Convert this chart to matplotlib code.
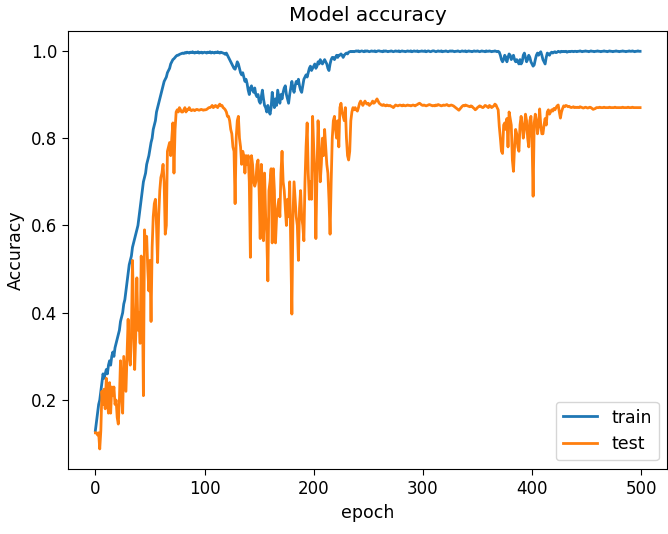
import numpy as np
import matplotlib
matplotlib.use("Agg")
import matplotlib.pyplot as plt

title = "Model accuracy"
x_label = "epoch"
y_label = "Accuracy"
series_names = ["train", "test"]

train = [
    0.13, 0.15, 0.17, 0.19, 0.20, 0.22, 0.24, 0.26, 0.25, 0.26,
    0.27, 0.26, 0.28, 0.29, 0.28, 0.30, 0.31, 0.30, 0.32, 0.33,
    0.34, 0.35, 0.36, 0.38, 0.39, 0.40, 0.42, 0.43, 0.45, 0.47,
    0.49, 0.51, 0.52, 0.53, 0.55, 0.56, 0.57, 0.58, 0.59, 0.60,
    0.62, 0.64, 0.66, 0.68, 0.70, 0.71, 0.72, 0.74, 0.75, 0.76,
    0.775, 0.79, 0.80, 0.82, 0.83, 0.84, 0.86, 0.87, 0.88, 0.89,
    0.90, 0.91, 0.92, 0.93, 0.935, 0.94, 0.95, 0.955, 0.96, 0.97,
    0.975, 0.98, 0.982, 0.985, 0.988, 0.99, 0.99, 0.992, 0.993, 0.994,
    0.995, 0.994, 0.996, 0.995, 0.997, 0.996, 0.995, 0.997, 0.996, 0.998,
    0.996, 0.995, 0.997, 0.996, 0.998, 0.995, 0.996, 0.997, 0.995, 0.996,
    0.997, 0.996, 0.995, 0.997, 0.996, 0.998, 0.995, 0.997, 0.996, 0.995,
    0.997, 0.996, 0.998, 0.996, 0.995, 0.997, 0.996, 0.995, 0.994, 0.992,
    0.995, 0.99, 0.985, 0.98, 0.975, 0.97, 0.965, 0.96, 0.958, 0.965,
    0.975, 0.97, 0.96, 0.95, 0.945, 0.95, 0.94, 0.93, 0.935, 0.925,
    0.91, 0.90, 0.915, 0.92, 0.91, 0.905, 0.915, 0.90, 0.895, 0.90,
    0.885, 0.88, 0.895, 0.91, 0.89, 0.875, 0.87, 0.86, 0.875, 0.865,
    0.855, 0.87, 0.905, 0.885, 0.87, 0.89, 0.875, 0.91, 0.895, 0.88,
    0.90, 0.89, 0.905, 0.915, 0.92, 0.90, 0.89, 0.88, 0.90, 0.915,
    0.93, 0.915, 0.905, 0.92, 0.93, 0.925, 0.935, 0.92, 0.91, 0.905,
    0.92, 0.935, 0.94, 0.945, 0.94, 0.95, 0.96, 0.965, 0.955, 0.96,
    0.965, 0.97, 0.96, 0.965, 0.975, 0.97, 0.98, 0.975, 0.97, 0.975,
    0.98, 0.975, 0.97, 0.96, 0.955, 0.97, 0.98, 0.985, 0.985, 0.98,
    0.985, 0.99, 0.985, 0.99, 0.99, 0.993, 0.99, 0.985, 0.99, 0.993,
    0.995, 0.993, 0.997, 0.998, 0.999, 0.998, 0.999, 0.998, 0.999, 1.0,
    0.999, 1.0, 0.998, 0.999, 1.0, 0.999, 0.998, 1.0, 0.999, 1.0,
    0.999, 0.998, 0.999, 1.0, 0.999, 0.999, 1.0, 0.998, 0.999, 1.0,
    1.0, 0.999, 0.999, 0.998, 1.0, 0.999, 1.0, 0.999, 0.998, 0.999,
    0.999, 1.0, 0.999, 0.998, 0.999, 1.0, 0.999, 0.999, 1.0, 0.998,
    0.999, 1.0, 0.999, 0.999, 0.998, 0.999, 1.0, 0.999, 0.999, 1.0,
    0.998, 0.999, 1.0, 0.999, 0.999, 1.0, 0.998, 0.999, 0.999, 1.0,
    0.999, 0.999, 1.0, 0.998, 0.999, 1.0, 0.999, 0.998, 0.999, 1.0,
    1.0, 0.999, 0.998, 0.999, 1.0, 0.999, 0.999, 1.0, 0.998, 0.999,
    0.999, 1.0, 0.999, 0.998, 0.999, 1.0, 0.999, 1.0, 0.999, 0.998,
    0.999, 0.999, 1.0, 0.999, 0.998, 0.999, 1.0, 0.999, 0.999, 1.0,
    0.998, 0.999, 1.0, 0.999, 0.999, 0.998, 0.999, 1.0, 0.999, 0.999,
    1.0, 0.999, 0.998, 0.999, 1.0, 0.999, 0.999, 0.998, 1.0, 0.999,
    0.999, 1.0, 0.999, 0.998, 0.999, 0.999, 1.0, 0.999, 0.998, 0.999,
    0.997, 0.99, 0.98, 0.975, 0.98, 0.99, 0.985, 0.975, 0.985, 0.993,
    0.99, 0.98, 0.985, 0.99, 0.98, 0.975, 0.98, 0.975, 0.97, 0.98,
    0.97, 0.975, 0.99, 0.995, 0.985, 0.975, 0.98, 0.99, 0.985, 0.975,
    0.97, 0.965, 0.968, 0.98, 0.99, 0.995, 0.99, 0.995, 0.998, 0.99,
    0.98, 0.975, 0.97, 0.985, 0.995, 0.993, 0.99, 0.995, 0.997, 0.995,
    0.997, 0.998, 0.996, 0.997, 0.999, 0.998, 0.997, 0.999, 0.998, 0.999,
    0.998, 0.999, 0.997, 0.998, 0.999, 0.998, 0.999, 0.999, 0.998, 0.999,
    0.999, 0.998, 0.999, 0.999, 1.0, 0.999, 0.998, 0.999, 0.999, 1.0,
    0.999, 0.999, 0.998, 0.999, 1.0, 0.999, 0.999, 0.998, 0.999, 0.999,
    1.0, 0.999, 0.999, 0.998, 0.999, 0.999, 1.0, 0.999, 0.999, 0.998,
    0.999, 1.0, 0.999, 0.999, 0.998, 0.999, 0.999, 1.0, 0.999, 0.999,
    0.998, 0.999, 0.999, 1.0, 0.999, 0.999, 0.998, 0.999, 0.999, 1.0,
    0.999, 0.999, 1.0, 0.999, 0.998, 0.999, 0.999, 1.0, 0.999, 0.999,
]

test = [
    0.125, 0.125, 0.12, 0.125, 0.088, 0.13, 0.22, 0.19, 0.225, 0.18,
    0.25, 0.20, 0.17, 0.24, 0.17, 0.23, 0.21, 0.23, 0.19, 0.20,
    0.16, 0.145, 0.20, 0.29, 0.22, 0.17, 0.30, 0.26, 0.22, 0.30,
    0.385, 0.30, 0.28, 0.35, 0.52, 0.40, 0.27, 0.35, 0.48, 0.36,
    0.40, 0.33, 0.53, 0.45, 0.21, 0.59, 0.55, 0.575, 0.50, 0.45,
    0.52, 0.38, 0.55, 0.62, 0.65, 0.66, 0.60, 0.515, 0.62, 0.68,
    0.71, 0.72, 0.74, 0.70, 0.58, 0.60, 0.77, 0.78, 0.79, 0.76,
    0.80, 0.835, 0.72, 0.82, 0.86, 0.865, 0.86, 0.87, 0.865, 0.86,
    0.86, 0.865, 0.87, 0.86, 0.865, 0.865, 0.87, 0.865, 0.863, 0.865,
    0.865, 0.863, 0.865, 0.866, 0.865, 0.864, 0.865, 0.866, 0.865, 0.864,
    0.865, 0.865, 0.866, 0.868, 0.87, 0.87, 0.872, 0.875, 0.87, 0.872,
    0.875, 0.873, 0.87, 0.875, 0.878, 0.874, 0.875, 0.87, 0.868, 0.865,
    0.86, 0.85, 0.85, 0.84, 0.82, 0.81, 0.78, 0.77, 0.65, 0.80,
    0.84, 0.85, 0.80, 0.78, 0.74, 0.77, 0.76, 0.72, 0.76, 0.74,
    0.76, 0.70, 0.527, 0.76, 0.74, 0.70, 0.69, 0.70, 0.74, 0.75,
    0.68, 0.57, 0.74, 0.70, 0.565, 0.72, 0.62, 0.58, 0.473, 0.68,
    0.70, 0.73, 0.56, 0.73, 0.68, 0.56, 0.62, 0.64, 0.66, 0.62,
    0.72, 0.77, 0.70, 0.68, 0.64, 0.60, 0.66, 0.62, 0.70, 0.55,
    0.397, 0.62, 0.70, 0.66, 0.62, 0.60, 0.52, 0.64, 0.68, 0.62,
    0.60, 0.565, 0.70, 0.78, 0.835, 0.72, 0.66, 0.70, 0.66, 0.85,
    0.78, 0.72, 0.57, 0.72, 0.84, 0.78, 0.70, 0.74, 0.80, 0.76,
    0.82, 0.78, 0.74, 0.72, 0.66, 0.58, 0.70, 0.80, 0.84, 0.85,
    0.82, 0.80, 0.84, 0.78, 0.87, 0.88, 0.86, 0.85, 0.84, 0.87,
    0.80, 0.76, 0.75, 0.77, 0.84, 0.86, 0.87, 0.865, 0.87, 0.865,
    0.862, 0.87, 0.88, 0.885, 0.88, 0.875, 0.88, 0.885, 0.88, 0.878,
    0.88, 0.875, 0.878, 0.88, 0.885, 0.88, 0.882, 0.886, 0.89, 0.885,
    0.88, 0.878, 0.876, 0.875, 0.877, 0.875, 0.874, 0.876, 0.875, 0.874,
    0.875, 0.873, 0.872, 0.87, 0.873, 0.876, 0.875, 0.874, 0.875, 0.876,
    0.875, 0.874, 0.876, 0.875, 0.874, 0.875, 0.876, 0.875, 0.875, 0.874,
    0.875, 0.876, 0.875, 0.874, 0.876, 0.877, 0.879, 0.88, 0.878, 0.876,
    0.875, 0.876, 0.875, 0.874, 0.875, 0.876, 0.877, 0.876, 0.875, 0.874,
    0.875, 0.874, 0.876, 0.875, 0.877, 0.876, 0.875, 0.874, 0.875, 0.876,
    0.875, 0.876, 0.877, 0.875, 0.874, 0.875, 0.876, 0.875, 0.874, 0.872,
    0.87, 0.868, 0.866, 0.864, 0.867, 0.87, 0.873, 0.875, 0.874, 0.876,
    0.875, 0.874, 0.873, 0.872, 0.874, 0.873, 0.87, 0.868, 0.865, 0.867,
    0.87, 0.872, 0.874, 0.873, 0.871, 0.87, 0.872, 0.875, 0.874, 0.872,
    0.87, 0.875, 0.873, 0.87, 0.872, 0.874, 0.878, 0.876, 0.87, 0.865,
    0.827, 0.80, 0.77, 0.765, 0.83, 0.835, 0.82, 0.845, 0.78, 0.86,
    0.845, 0.83, 0.75, 0.724, 0.78, 0.82, 0.81, 0.78, 0.77, 0.83,
    0.85, 0.83, 0.80, 0.82, 0.855, 0.84, 0.80, 0.78, 0.84, 0.85,
    0.80, 0.667, 0.835, 0.855, 0.84, 0.81, 0.83, 0.867, 0.83, 0.81,
    0.81, 0.83, 0.845, 0.83, 0.86, 0.865, 0.855, 0.86, 0.865, 0.862,
    0.868, 0.865, 0.87, 0.874, 0.876, 0.86, 0.846, 0.86, 0.868, 0.874,
    0.872, 0.875, 0.874, 0.872, 0.873, 0.871, 0.87, 0.871, 0.872, 0.87,
    0.871, 0.87, 0.871, 0.87, 0.872, 0.871, 0.87, 0.869, 0.87, 0.871,
    0.87, 0.869, 0.87, 0.871, 0.87, 0.868, 0.866, 0.867, 0.868, 0.87,
    0.87, 0.87, 0.871, 0.87, 0.87, 0.87, 0.871, 0.87, 0.87, 0.87,
    0.87, 0.871, 0.87, 0.87, 0.87, 0.87, 0.871, 0.87, 0.87, 0.87,
    0.87, 0.87, 0.87, 0.871, 0.87, 0.87, 0.87, 0.87, 0.871, 0.87,
    0.87, 0.87, 0.871, 0.87, 0.87, 0.87, 0.87, 0.87, 0.87, 0.87,
]

fig = plt.figure(figsize=(6.68, 5.34), dpi=100)
ax = fig.add_axes([0.102, 0.122, 0.897, 0.820])
ax.plot(np.arange(len(train)), train, color="#1f77b4", lw=2.0, label=series_names[0])
ax.plot(np.arange(len(test)), test, color="#ff7f0e", lw=2.0, label=series_names[1])
ax.set_title(title, fontsize=14.5, pad=7)
ax.set_xlabel(x_label, fontsize=12.5)
ax.set_ylabel(y_label, fontsize=12.5)
ax.set_xticks([0, 100, 200, 300, 400, 500])
ax.set_yticks([0.2, 0.4, 0.6, 0.8, 1.0])
ax.tick_params(labelsize=12, length=4.5)
ax.legend(loc="lower right", fontsize=12.5, handlelength=2.0)
fig.savefig("out.png", dpi=100)
